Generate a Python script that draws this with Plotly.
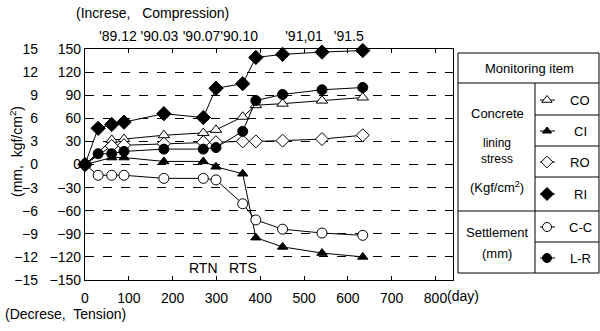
import plotly.graph_objects as go

W, H = 600, 331

# ---- data ----
days = [0, 30, 61, 89, 180, 270, 299, 360, 390, 451, 541, 634]
CO = [0, None, 32, 33, 38, 41, 45, 62, 77, 79, 83, 87]
CI = [0, None, 9, 9, 4, 4, -3, -12, -95, -107, -115, -120]
RO = [0, None, 24, 25, 27, 29, 29, 30, 30, 31, 33, 38]
RI = [0, 47, 52, 55, 66, 61, 99, 105, 139, 143, 146, 148]
CC = [0, -14, -14, -14, -18, -18, -20, -51, -72, -84, -89, -92]
LR = [0, 14, 14, 17, 20, 20, 22, 43, 83, 91, 97, 100]

x_ticks = [0, 100, 200, 300, 400, 500, 600, 700, 800]
y_ticks = [150, 120, 90, 60, 30, 0, -30, -60, -90, -120, -150]
mm_ticks = [15, 12, 9, 6, 3, 0, -3, -6, -9, -12, -15]
date_days = [75, 170, 266, 352, 500, 602]
date_labels = ["'89.12", "'90.03", "'90.07", "'90.10", "'91,01", "'91.5"]
event_days = [270, 360]
event_labels = ["RTN", "RTS"]

FONT = "Liberation Sans, Arial, sans-serif"

# plot area in pixels
PL, PR, PT, PB = 85, 453, 49, 280

series = [
    ("CO", CO, "triangle-up", "white", 10),
    ("CI", CI, "triangle-up", "black", 9),
    ("RO", RO, "diamond", "white", 10),
    ("RI", RI, "diamond", "black", 11),
    ("C-C", CC, "circle", "white", 10),
    ("L-R", LR, "circle", "black", 10),
]

fig = go.Figure()
for name, vals, sym, fill, size in series:
    fig.add_trace(go.Scatter(
        x=days, y=vals, mode="lines+markers", name=name, connectgaps=True,
        line=dict(color="black", width=1),
        marker=dict(symbol=sym, size=size, color=fill, line=dict(color="black", width=1)),
        showlegend=False, cliponaxis=False, xaxis="x", yaxis="y"))

# carriers for the top date axis and the mm axis
fig.add_trace(go.Scatter(x=[0], y=[0], xaxis="x2", yaxis="y", mode="markers",
                         marker=dict(opacity=0), showlegend=False, hoverinfo="skip"))
fig.add_trace(go.Scatter(x=[0], y=[0], xaxis="x", yaxis="y2", mode="markers",
                         marker=dict(opacity=0), showlegend=False, hoverinfo="skip"))

# ---- legend table (pixel coords on overlay axes x3/y3) ----
TL, TR, TT, TB = 458, 599, 53, 273
DIV = 535
shapes = []
def line(x0, y0, x1, y1):
    shapes.append(dict(type="line", xref="x3", yref="y3", x0=x0, y0=y0, x1=x1, y1=y1,
                       line=dict(color="black", width=1)))
shapes.append(dict(type="rect", xref="x3", yref="y3", x0=TL, y0=TT, x1=TR, y1=TB,
                   line=dict(color="black", width=1)))
line(TL, 83, TR, 83)
line(DIV, 83, DIV, TB)
for yy in [115, 146, 177, 242]:
    line(DIV, yy, TR, yy)
line(TL, 211, TR, 211)

row_y = [100, 131, 162, 194, 227, 258]
for (name, vals, sym, fill, size), ry in zip(series, row_y):
    fig.add_trace(go.Scatter(
        x=[540, 547, 555], y=[ry, ry, ry], mode="lines", line=dict(color="black", width=1),
        showlegend=False, xaxis="x3", yaxis="y3", hoverinfo="skip"))
    fig.add_trace(go.Scatter(
        x=[547], y=[ry], mode="markers",
        marker=dict(symbol=sym, size=size - 1, color=fill, line=dict(color="black", width=1)),
        showlegend=False, xaxis="x3", yaxis="y3", hoverinfo="skip"))

ann = []
def txt(x, y, s, size=13, xanchor="center", angle=0):
    ann.append(dict(x=x, y=y, xref="x3", yref="y3", text=s, showarrow=False,
                    xanchor=xanchor, yanchor="middle", textangle=angle,
                    font=dict(family=FONT, size=size, color="black")))

for (name, *_), ry in zip(series, row_y):
    txt(580, ry, name, 13)
txt(529, 68, "Monitoring item", 13)
txt(497, 113, "Concrete", 13)
txt(497, 151, "lining<br>stress", 12)
txt(497, 187, "(Kgf/cm<sup>2</sup>)", 13)
txt(497, 232, "Settlement", 13)
txt(497, 253, "(mm)", 13)

txt(152, 13, "(Increse,   Compression)", 14)
txt(3, 314, "(Decrese,  Tension)", 14, xanchor="left")
txt(463, 296, "(day)", 14)
txt(16, 152, "(mm,  kgf/cm<sup>2</sup>)", 14, angle=-90)

for d, s in zip(event_days, event_labels):
    ann.append(dict(x=d, y=-134, xref="x", yref="y", text=s, showarrow=False,
                    font=dict(family=FONT, size=14, color="black")))

fig.update_layout(
    width=W, height=H, margin=dict(l=0, r=0, t=0, b=0, autoexpand=False),
    paper_bgcolor="white", plot_bgcolor="rgba(0,0,0,0)",
    font=dict(family=FONT, size=14, color="black"),
    shapes=shapes, annotations=ann,
    xaxis=dict(domain=[PL / W, PR / W], range=[0, 840], anchor="y",
               tickvals=x_ticks, ticks="inside", ticklen=4, tickcolor="black",
               showline=True, linecolor="black", linewidth=1.2, mirror="ticks",
               showgrid=False, zeroline=False, ticklabelstandoff=5,
               tickfont=dict(size=14), automargin=False, tickangle=0),
    xaxis2=dict(overlaying="x", side="top", range=[0, 840], anchor="y",
                tickvals=date_days, ticktext=date_labels, ticks="",
                showline=False, showgrid=False, zeroline=False,
                ticklabelstandoff=4, tickfont=dict(size=14), automargin=False,
                tickangle=0),
    yaxis=dict(domain=[1 - PB / H, 1 - PT / H], range=[-150, 150], anchor="x",
               tickvals=y_ticks, ticks="inside", ticklen=4, tickcolor="black",
               showline=True, linecolor="black", linewidth=1.2, mirror="ticks",
               showgrid=True, gridcolor="black", gridwidth=1, griddash="dash",
               zeroline=False, tickfont=dict(size=14), automargin=False),
    yaxis2=dict(overlaying="y", side="left", anchor="free", position=38 / W,
                range=[-15, 15], tickvals=mm_ticks, ticks="",
                showline=False, showgrid=False, zeroline=False,
                tickfont=dict(size=14), automargin=False),
    xaxis3=dict(domain=[0, 1], range=[0, W], anchor="y3", visible=False, fixedrange=True),
    yaxis3=dict(domain=[0, 1], range=[H, 0], anchor="x3", visible=False, fixedrange=True),
)

fig.write_html("out.html", config={"displayModeBar": False},
               post_script="document.body.style.margin='0';document.body.style.overflow='hidden';")
